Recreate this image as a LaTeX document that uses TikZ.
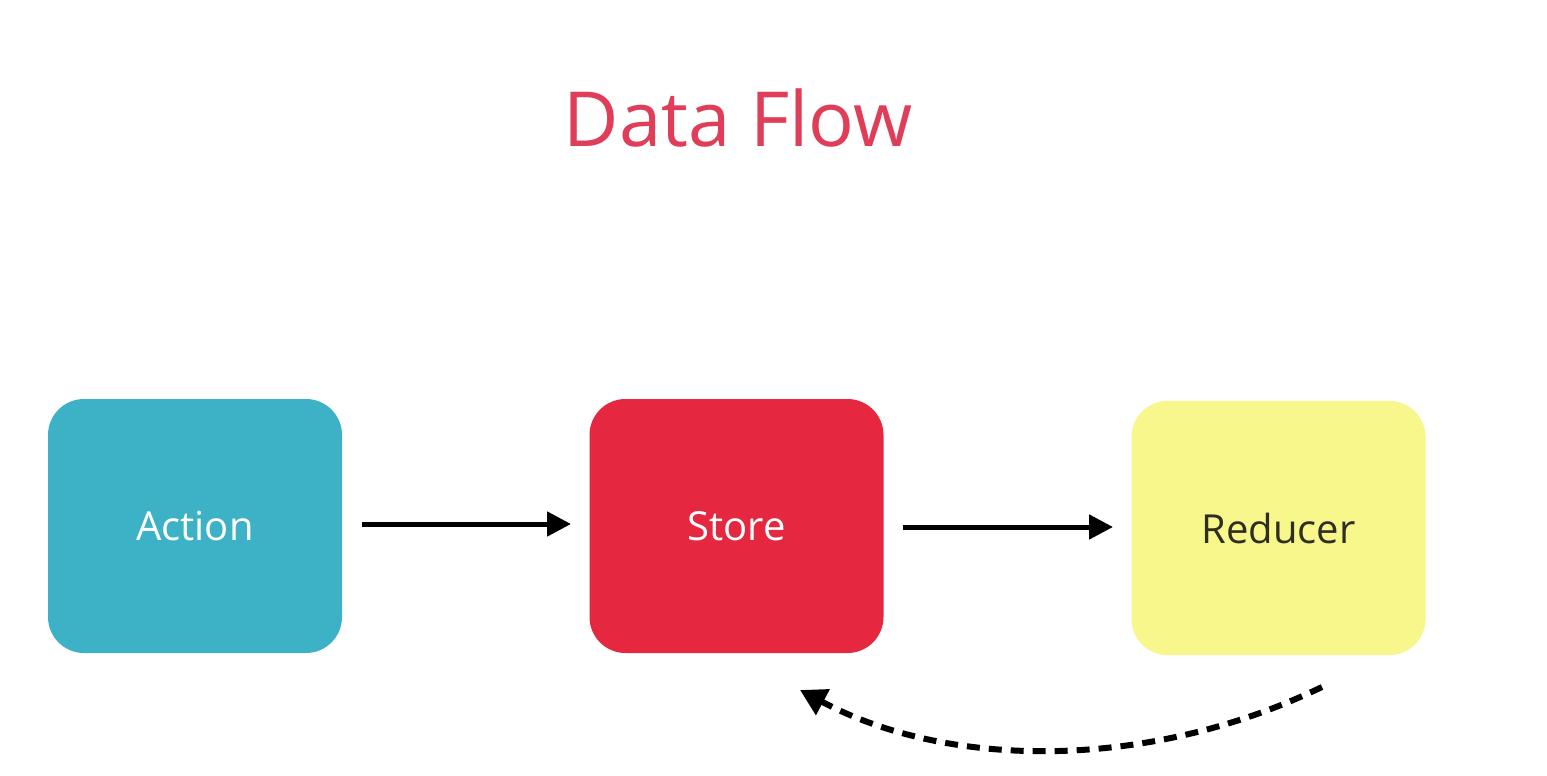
\documentclass[tikz,border=0pt]{standalone}
\usepackage{fontspec}
\setmainfont{Open Sans}
\usetikzlibrary{arrows.meta}
\definecolor{actc}{HTML}{3DB2C7}
\definecolor{storec}{HTML}{E5283F}
\definecolor{redc}{HTML}{F7F78B}
\definecolor{titlec}{HTML}{E03D58}
\definecolor{darktext}{HTML}{2E2E22}
\tikzset{
  box/.style={rounded corners=36pt, minimum width=294pt, minimum height=254pt, inner sep=0pt, font=\fontsize{40}{44}\selectfont},
  flow/.style={line width=5pt, -{Triangle[length=24pt,width=24pt]}},
  back/.style={line width=6pt, dash pattern=on 13pt off 9pt, -{Triangle[length=26pt,width=28pt]}}
}
\begin{document}
\begin{tikzpicture}[x=1pt,y=-1pt]
\useasboundingbox (0,0) rectangle (1547,776);
\fill[white] (0,0) rectangle (1547,776);
\node[font=\fontsize{76}{86}\selectfont, text=titlec] (title) at (738,118) {Data Flow};
\node[box, fill=actc, text=white] (action) at (195,526) {Action};
\node[box, fill=storec, text=white] (store) at (736.5,526) {Store};
\node[box, fill=redc, text=darktext] (reducer) at (1278.5,528) {Reducer};
\coordinate (a1) at (362,524);
\coordinate (a2) at (571,524);
\coordinate (b1) at (903,527);
\coordinate (b2) at (1113,527);
\draw[flow] (a1) -- (a2);
\draw[flow] (b1) -- (b2);
\coordinate (bs) at (1322,687);
\coordinate (be) at (800,690);
\draw[back] (bs) .. controls (1150,770) and (950,770) .. (be);
\end{tikzpicture}
\end{document}
